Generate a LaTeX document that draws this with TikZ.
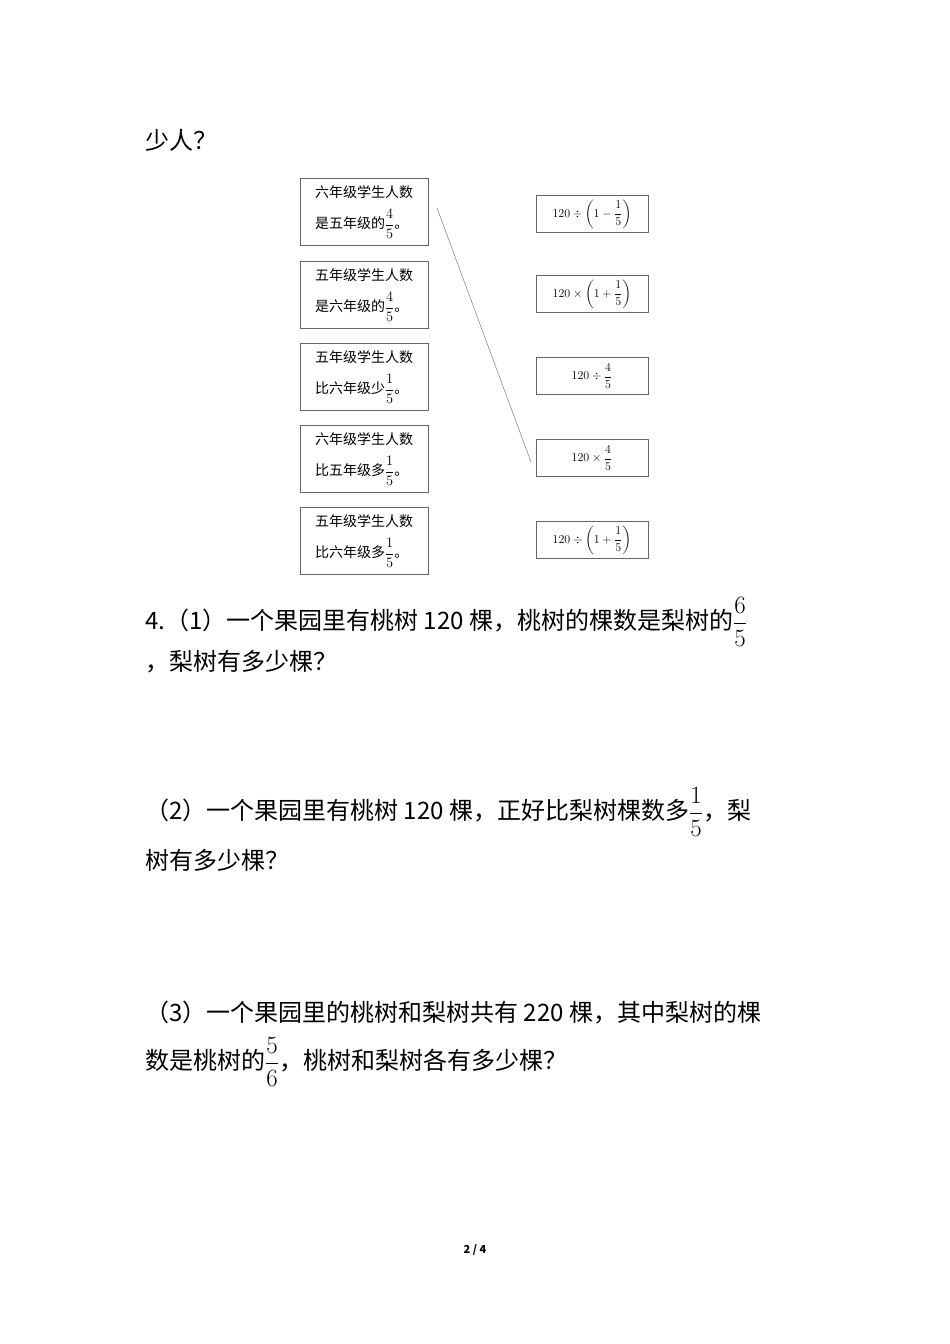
\documentclass[tikz,border=0pt]{standalone}
\usepackage{amsmath}
\usepackage{fontspec}
\setmainfont{Noto Sans CJK SC}
\begin{document}
\begin{tikzpicture}[x=1pt,y=-1pt,
  txt/.style={anchor=west,inner sep=0pt,font=\fontsize{24}{28}\selectfont},
  lbox/.style={draw=black!60,minimum width=128pt,minimum height=67pt,align=left,font=\fontsize{14}{17}\selectfont,inner sep=0pt},
  rbox/.style={draw=black!60,minimum width=112pt,minimum height=37pt,font=\fontsize{13}{15}\selectfont,inner sep=0pt}]
  \useasboundingbox (0,0) rectangle (950,1344);
  % question text
  \node[txt] (t0) at (145,140) {少人？};
  \node[txt] (t1) at (145,622) {4.（1）一个果园里有桃树 120 棵，桃树的棵数是梨树的$\dfrac{6}{5}$};
  \node[txt] (t2) at (145,662) {，梨树有多少棵？};
  \node[txt] (t3) at (145,812) {（2）一个果园里有桃树 120 棵，正好比梨树棵数多$\dfrac{1}{5}$，梨};
  \node[txt] (t4) at (145,860) {树有多少棵？};
  \node[txt] (t5) at (145,1012) {（3）一个果园里的桃树和梨树共有 220 棵，其中梨树的棵};
  \node[txt] (t6) at (145,1062) {数是桃树的$\dfrac{5}{6}$，桃树和梨树各有多少棵？};
  % left boxes
  \node[lbox] (l1) at (364,212) {六年级学生人数\\[10pt]是五年级的$\dfrac{4}{5}$。};
  \node[lbox] (l2) at (364,295) {五年级学生人数\\[10pt]是六年级的$\dfrac{4}{5}$。};
  \node[lbox] (l3) at (364,377) {五年级学生人数\\[10pt]比六年级少$\dfrac{1}{5}$。};
  \node[lbox] (l4) at (364,459) {六年级学生人数\\[10pt]比五年级多$\dfrac{1}{5}$。};
  \node[lbox] (l5) at (364,541) {五年级学生人数\\[10pt]比六年级多$\dfrac{1}{5}$。};
  % right boxes
  \node[rbox] (r1) at (592,214) {$120\div\left(1-\dfrac{1}{5}\right)$};
  \node[rbox] (r2) at (592,294) {$120\times\left(1+\dfrac{1}{5}\right)$};
  \node[rbox] (r3) at (592,376) {$120\div\dfrac{4}{5}$};
  \node[rbox] (r4) at (592,458) {$120\times\dfrac{4}{5}$};
  \node[rbox] (r5) at (592,540) {$120\div\left(1+\dfrac{1}{5}\right)$};
  \coordinate (a) at (437,208);
  \coordinate (b) at (531,462);
  \draw[black!60] (a) -- (b);
  \node[font=\bfseries\fontsize{11}{13}\selectfont] (pg) at (475,1250) {2 / 4};
\end{tikzpicture}
\end{document}
